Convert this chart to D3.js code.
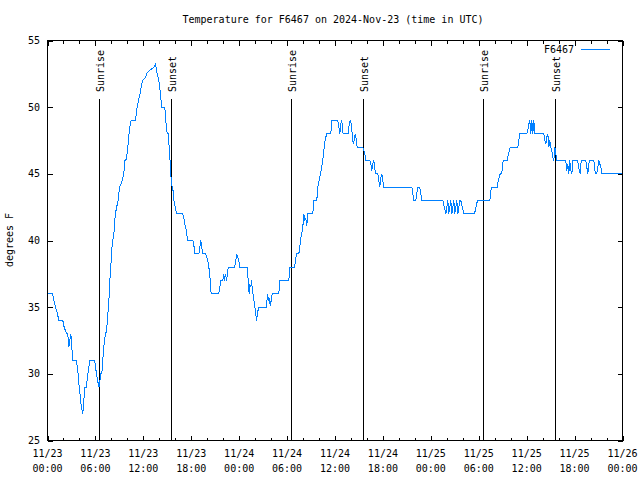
<!DOCTYPE html>
<html><head><meta charset="utf-8">
<script src="https://cdn.jsdelivr.net/npm/d3@7"></script>
<style>
body{margin:0;background:#fff}
text{font-family:"DejaVu Sans Mono","Liberation Mono",monospace;font-size:10px;fill:#000}
</style>
</head><body><svg id="c" width="640" height="480"></svg>
<script>
// hours since 2024-11-23 00:00 UTC
const hours = [0,0.63,0.81,1.00,1.25,1.42,1.92,2.04,2.38,2.54,2.67,2.79,2.92,3.01,3.09,3.17,3.63,3.72,3.84,3.94,4.01,4.13,4.26,4.42,4.55,4.67,4.85,5.05,5.17,5.30,5.92,6.01,6.14,6.26,6.39,6.47,6.57,6.67,6.80,6.92,7.05,7.18,7.30,7.43,7.55,7.64,7.73,7.80,7.93,8.01,8.14,8.26,8.39,8.48,8.60,8.73,8.85,9.02,9.27,9.55,9.68,9.89,10.06,10.21,10.31,10.48,11.02,11.23,11.40,11.58,11.73,11.90,12.27,12.40,12.68,12.90,13.31,13.52,13.74,13.94,14.15,14.28,14.69,14.81,14.99,15.11,15.24,15.40,15.44,15.49,15.61,15.74,15.82,15.94,16.07,16.15,16.94,17.07,17.19,17.32,17.41,17.57,18.19,18.32,18.44,18.95,19.07,19.20,19.32,19.45,19.82,19.95,20.07,20.20,20.32,20.41,20.50,21.45,21.58,21.70,21.95,22.08,22.16,22.29,22.41,22.54,22.63,23.42,23.58,23.70,23.83,23.95,24.08,25.01,25.08,25.17,25.26,25.33,25.46,25.55,25.67,25.80,25.92,26.05,26.17,26.30,26.42,27.42,27.55,27.67,27.76,27.89,28.01,28.14,28.96,29.09,30.22,30.34,30.93,31.05,31.18,31.47,31.59,31.72,31.84,31.97,32.09,32.22,32.34,32.47,32.60,33.22,33.35,33.72,33.85,33.97,34.10,34.22,34.35,34.47,34.60,34.72,34.85,34.97,35.48,35.60,36.35,36.48,36.60,36.73,36.85,36.98,37.10,37.65,37.78,37.90,38.03,38.15,38.28,38.40,38.53,38.66,38.78,39.48,39.61,39.73,39.86,40.36,40.48,40.61,40.73,40.86,40.98,41.11,41.36,41.48,41.61,41.74,41.86,41.99,42.11,45.62,45.74,45.87,46.12,46.24,46.37,46.62,46.74,46.87,49.50,49.88,50.13,50.25,50.50,50.63,50.88,51.00,51.25,51.38,51.63,51.75,52.13,53.47,53.84,55.39,55.51,55.64,56.31,56.44,56.56,56.69,56.81,56.94,57.06,57.56,57.69,57.82,57.94,58.89,59.02,59.14,60.02,60.14,60.27,60.39,60.52,60.65,60.77,60.90,61.02,62.15,62.27,62.40,62.52,62.65,62.78,62.90,63.03,63.15,63.28,63.40,63.53,63.65,63.78,64.90,65.03,65.15,65.28,65.40,65.53,65.66,65.78,66.33,66.46,66.58,66.71,66.83,67.41,67.53,67.66,67.78,67.91,68.41,68.53,68.66,68.78,68.91,69.03,69.16,69.29,69.41,71.94];
const temps = [36,36,35.5,35,34.5,34,34,33.6,33,33,32,32.5,33,32.5,31.5,31,31,30.5,30,29.2,29,28,27.5,27,28,29,29,30,30.5,31,31,30.5,30,29.5,29.2,29,29.5,30,30,31,32,32.7,33,33.5,34.5,35,36,37,38,39,40,40.2,41,42,42.3,42.7,43,44,44.3,45,46,46.1,47,48,48.5,49,49,50,50.5,51,51.5,52,52.2,52.5,52.7,52.8,53,53.2,52.5,52,51,50,50,49,48,48,47,45.5,45,44.5,44,43.7,43,42.7,42.3,42,42,41.7,41.2,41,40.5,40,40,39.7,39,39,39.5,40,39.5,39,39,38.7,38.5,38,37.5,36.5,36,36,36.5,37,37,37.5,37,37.5,37,37.5,38,38,38.5,39,38.75,38.5,38,38,37.5,36.5,36,36.7,36.5,37,36.2,35.7,35.2,34.7,34,34.5,35,35,36,35.5,35.7,35.1,35.5,36,36,37,37,38,38,38.5,39,39,39.5,40.2,40.5,41,42,41.5,41.7,41.1,42,42,43,43,44,44.4,44.75,45.1,45.6,46,46.75,47.4,47.75,48,48,49,49,48.5,48,48.75,49,48.1,48,48,48.75,49,48.75,48,47.25,47.5,48,47.6,47,47,46.75,46.5,46,46,45.75,45.25,45.75,46,45.4,45,45,44.5,44,44.75,45,44.5,44,44,43.5,43,43,43.5,44,44,43.5,43,43,42,43,42,43,42,43,42,43,42,43,43,42,42,43,43,43.75,44,44,44.5,44.75,45,45,45.25,46,46,46.4,46.75,47,47,47.5,48,48,48.25,48.75,49,48,49,48,49,48,48,47.5,47.25,47.75,48,47,47.5,47,46.75,46.25,46,47,46.5,46,46,45.25,45.75,45,46,45.25,45,46,46,45.75,45.25,45,46,46,45.5,45,45.75,46,46,45.25,45,45,45.5,46,45.75,45.5,45,45];
const sunLabels = ["Sunrise","Sunset","Sunrise","Sunset","Sunrise","Sunset"];
const sunHours = [6.42,15.44,30.52,39.48,54.51,63.53];
const xTickHours = [0,6,12,18,24,30,36,42,48,54,60,66,72];
const xTickDates = ["11/23","11/23","11/23","11/23","11/24","11/24","11/24","11/24","11/25","11/25","11/25","11/25","11/26"];
const xTickTimes = ["00:00","06:00","12:00","18:00","00:00","06:00","12:00","18:00","00:00","06:00","12:00","18:00","00:00"];
const yTicks = [25,30,35,40,45,50,55];
const seriesName = "F6467";
const titleText = "Temperature for F6467 on 2024-Nov-23 (time in UTC)";
const yTitle = "degrees F";

const L=47.5, R=622.5, T=40.5, B=440.5;
const svg = d3.select("#c");
const x = d3.scaleLinear().domain([0,72]).range([L,R]);
const y = d3.scaleLinear().domain([25,55]).range([B,T]);
const blue = "#0080ff";

const minor = d3.range(0,73,2).filter(h=>h%6!==0);
const xb = d3.axisBottom(x).tickValues(xTickHours).tickSize(-5).tickFormat("");
const xbm = d3.axisBottom(x).tickValues(minor).tickSize(-3).tickFormat("");
const xt = d3.axisTop(x).tickValues(xTickHours).tickSize(-5).tickFormat("");
const xtm = d3.axisTop(x).tickValues(minor).tickSize(-3).tickFormat("");
const yl = d3.axisLeft(y).tickValues(yTicks).tickSize(-5).tickFormat("");
const yr = d3.axisRight(y).tickValues(yTicks).tickSize(-5).tickFormat("");
[[xb,`translate(0,${B})`],[xbm,`translate(0,${B})`],[xt,`translate(0,${T})`],[xtm,`translate(0,${T})`],[yl,`translate(${L},0)`],[yr,`translate(${R},0)`]].forEach(([ax,tr])=>{
  const a = svg.append("g").attr("transform",tr).call(ax);
  a.select(".domain").remove();
  a.selectAll("line").attr("stroke","#000").attr("shape-rendering","crispEdges");
});
svg.append("rect").attr("x",L).attr("y",T).attr("width",R-L).attr("height",B-T)
  .attr("fill","none").attr("stroke","#000").attr("shape-rendering","crispEdges");

const xl = svg.append("g");
xTickHours.forEach((h,i)=>{
  const t = xl.append("text").attr("text-anchor","middle");
  t.append("tspan").attr("x",x(h)).attr("y",457).text(xTickDates[i]);
  t.append("tspan").attr("x",x(h)).attr("y",472).text(xTickTimes[i]);
});
yTicks.forEach(v=>{
  svg.append("text").attr("x",40).attr("y",y(v)+3.5).attr("text-anchor","end").text(v);
});
svg.append("text").attr("x",333).attr("y",23).attr("text-anchor","middle").text(titleText);
svg.append("text").attr("transform",`translate(13,240) rotate(-90)`).attr("text-anchor","middle").text(yTitle);

sunHours.forEach((h,i)=>{
  const xx = Math.round(x(h))+0.5;
  svg.append("line").attr("x1",xx).attr("x2",xx).attr("y1",99).attr("y2",B)
    .attr("stroke","#000").attr("shape-rendering","crispEdges");
  svg.append("text").attr("transform",`translate(${xx+4},92) rotate(-90)`)
    .attr("text-anchor","start").text(sunLabels[i]);
});

const data = hours.map((h,i)=>[h,temps[i]]);
svg.append("path").datum(data)
  .attr("d", d3.line().x(d=>x(d[0])).y(d=>y(d[1])))
  .attr("fill","none").attr("stroke",blue).attr("stroke-width",1)
  .attr("shape-rendering","crispEdges");

svg.append("text").attr("x",574).attr("y",53).attr("text-anchor","end").text(seriesName);
svg.append("line").attr("x1",581).attr("x2",610).attr("y1",49.5).attr("y2",49.5)
  .attr("stroke",blue).attr("shape-rendering","crispEdges");
</script></body></html>
